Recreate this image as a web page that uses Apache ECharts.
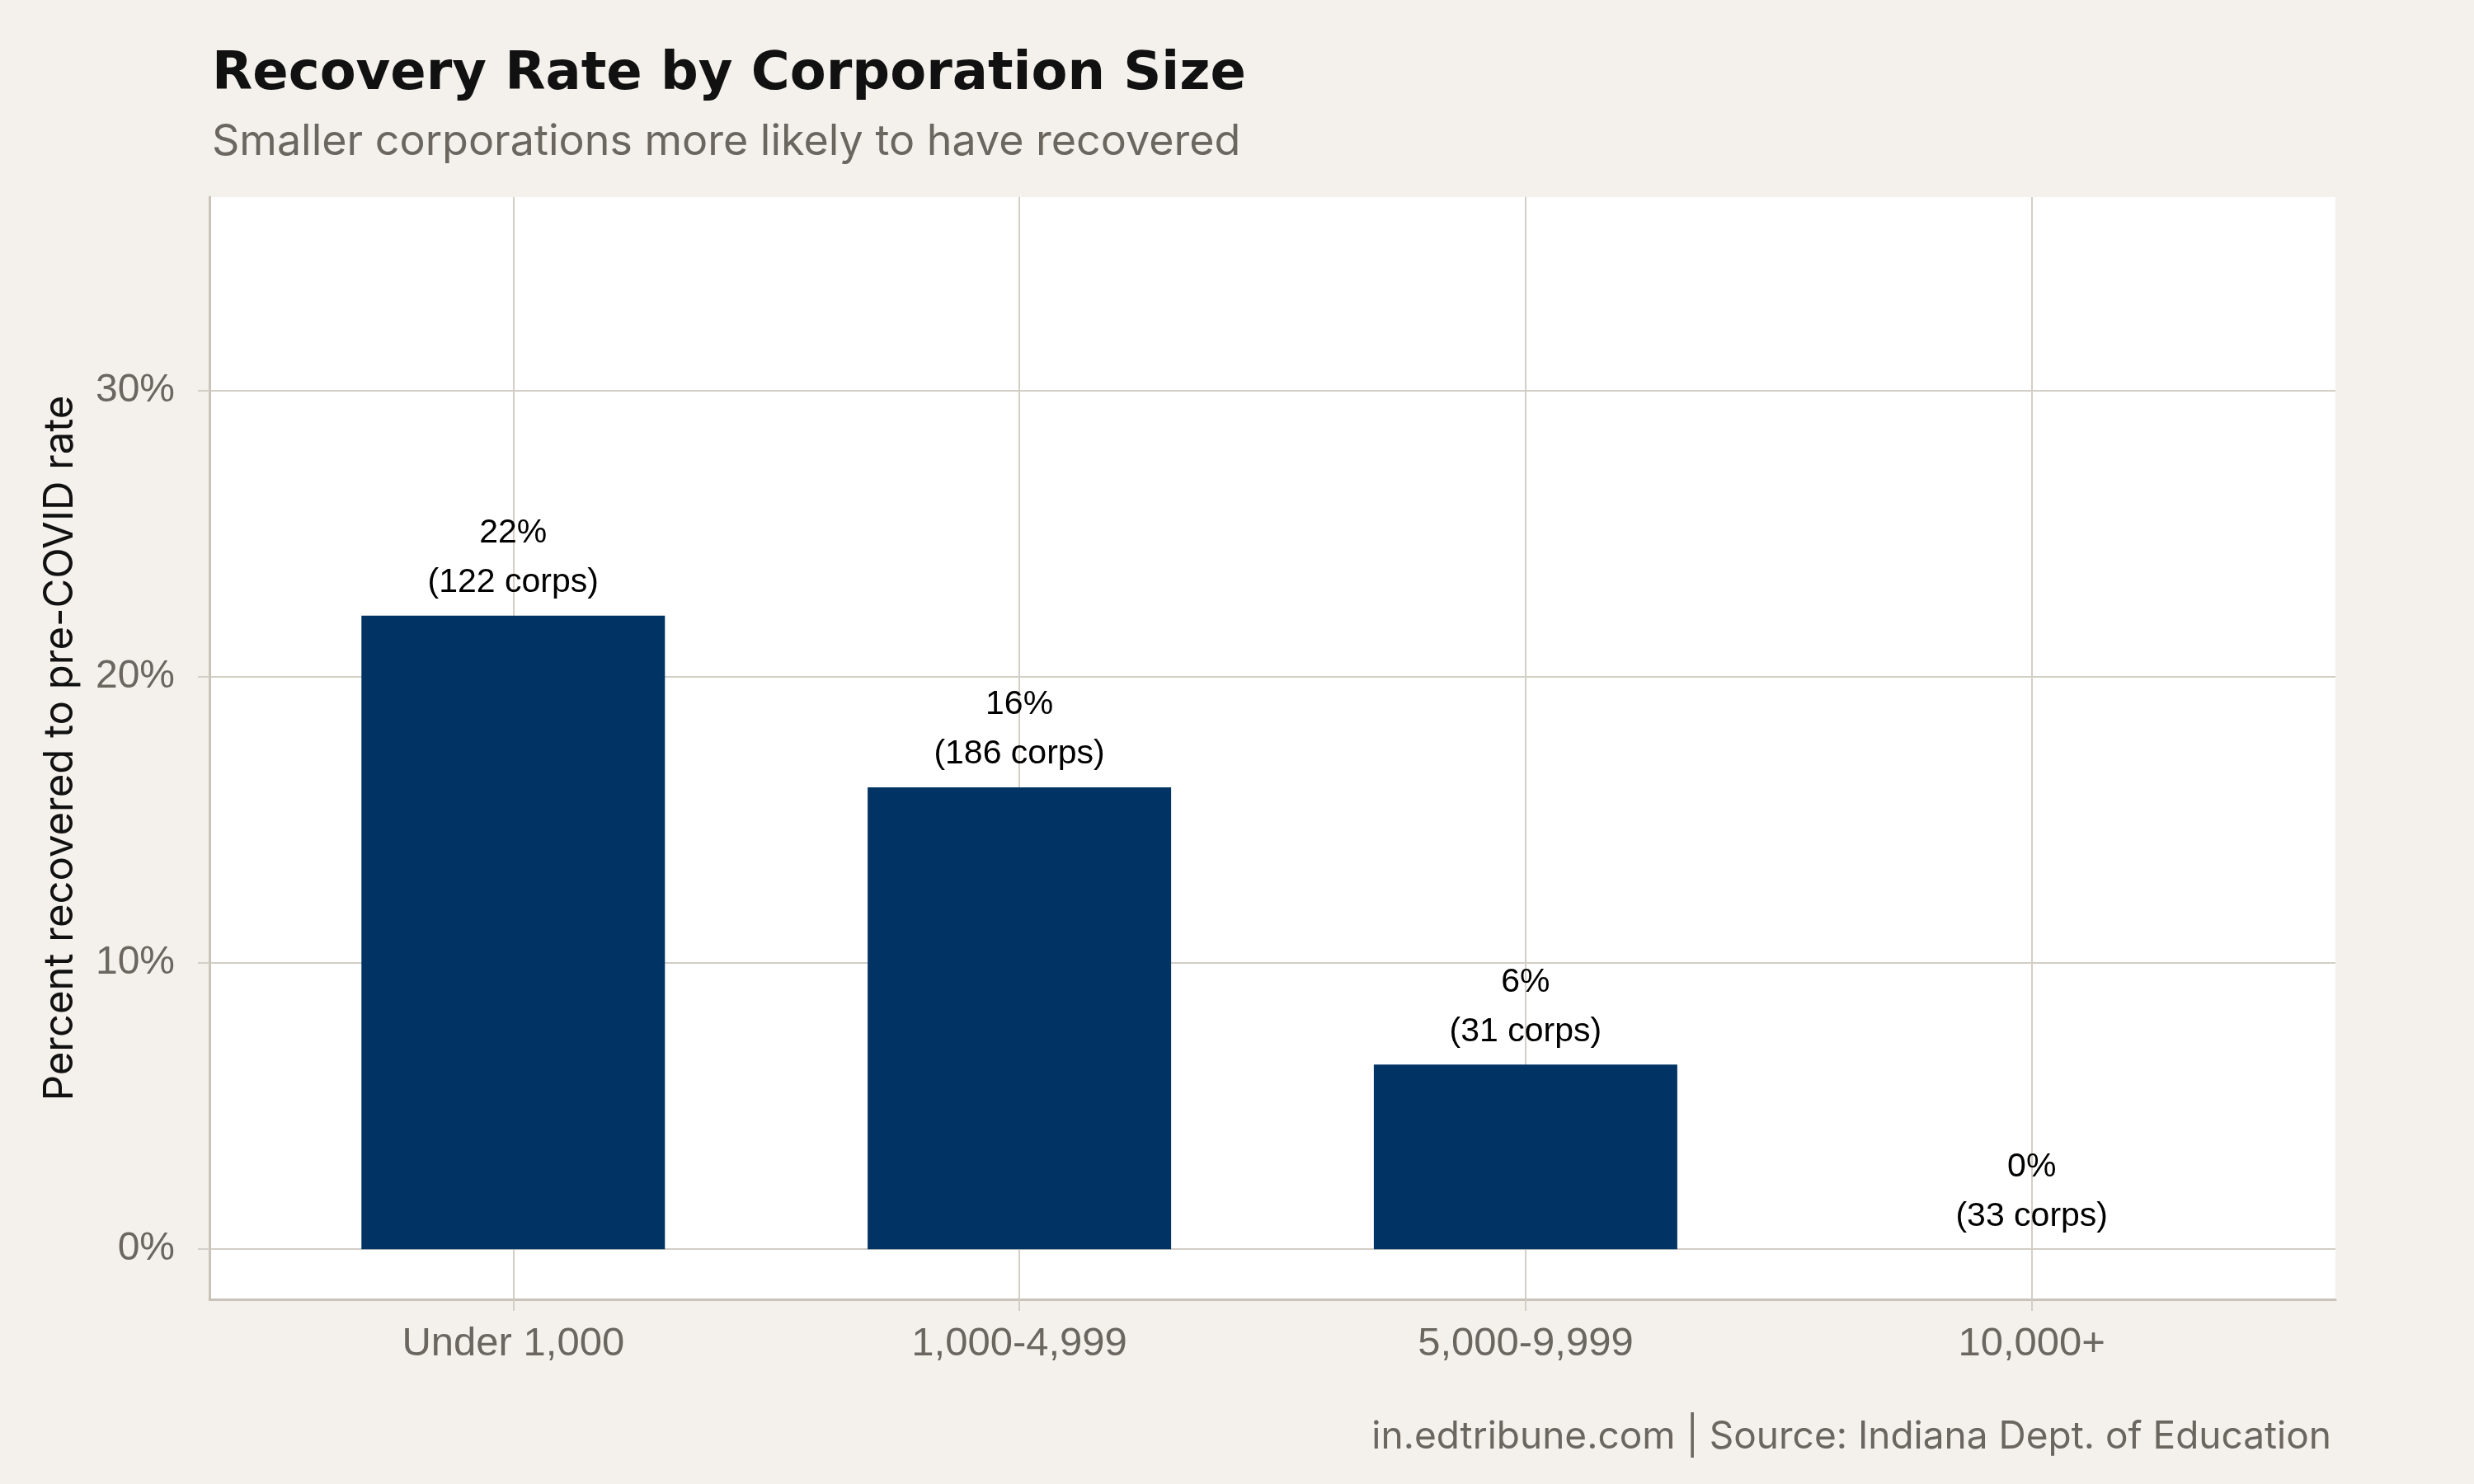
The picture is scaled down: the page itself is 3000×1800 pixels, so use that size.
<!DOCTYPE html>
<html>
<head>
<meta charset="utf-8">
<script src="https://cdn.jsdelivr.net/npm/echarts@6/dist/echarts.min.js"></script>
<style>
  html, body { margin: 0; padding: 0; background: #f4f1ec; }
  #chart { width: 3000px; height: 1800px; }
</style>
</head>
<body>
<div id="chart"></div>
<script>
// data
var categories = ['Under 1,000', '1,000-4,999', '5,000-9,999', '10,000+'];
var rates = [22.13, 16.13, 6.45, 0];        // percent recovered
var corpCounts = [122, 186, 31, 33];
var yTicks = [0, 10, 20, 30];

var gridColor = '#d3cec6';
var axisColor = '#c9c3b9';
var greyText = '#6b6660';

var chart = echarts.init(document.getElementById('chart'));
chart.setOption({
  backgroundColor: '#f4f1ec',
  animation: false,
  title: [
    {
      text: 'Recovery Rate by Corporation Size',
      left: 252, top: 54,
      textStyle: { fontFamily: 'DejaVu Sans', fontWeight: 'bold', fontSize: 64, color: '#111' }
    },
    {
      text: 'Smaller corporations more likely to have recovered',
      left: 252, top: 141,
      textStyle: { fontFamily: 'Inter', fontWeight: 'normal', fontSize: 52, color: greyText }
    },
    {
      text: 'in.edtribune.com | Source: Indiana Dept. of Education',
      right: 168, top: 1715,
      textStyle: { fontFamily: 'Inter', fontWeight: 'normal', fontSize: 46, color: greyText }
    }
  ],
  grid: {
    left: 254, right: 168, top: 239, bottom: 224,
    show: true, backgroundColor: '#ffffff', borderWidth: 0
  },
  xAxis: {
    type: 'value',
    min: 0.4, max: 4.6,
    axisLine: { show: true, onZero: false, lineStyle: { color: axisColor, width: 3 } },
    axisTick: { show: true, length: 14, customValues: categories.map(function (c, i) { return i + 1; }),
      lineStyle: { color: gridColor, width: 2 } },
    axisLabel: {
      customValues: categories.map(function (c, i) { return i + 1; }),
      formatter: function (v) { return categories[Math.round(v) - 1] || ''; },
      margin: 30, fontFamily: 'Liberation Sans', fontSize: 49, color: greyText
    },
    splitLine: { show: true, lineStyle: { color: gridColor, width: 2 } }
  },
  yAxis: {
    type: 'value',
    min: -1.75, max: 36.75,
    name: 'Percent recovered to pre-COVID rate',
    nameLocation: 'middle',
    nameGap: 156,
    nameTextStyle: { fontFamily: 'Inter', fontSize: 49, color: '#111' },
    axisLine: { show: true, lineStyle: { color: axisColor, width: 3 } },
    axisTick: { show: true, length: 14, customValues: yTicks, lineStyle: { color: gridColor, width: 2 } },
    axisLabel: {
      customValues: yTicks,
      formatter: function (v) { return v + '%'; },
      margin: 42, fontFamily: 'Liberation Sans', fontSize: 48, color: greyText
    },
    splitLine: { show: true, lineStyle: { color: gridColor, width: 2 } }
  },
  series: [{
    type: 'bar',
    barWidth: 368,
    itemStyle: { color: '#013364' },
    data: categories.map(function (c, i) { return [i + 1, rates[i]]; }),
    label: {
      show: true,
      position: 'top',
      distance: 10,
      fontFamily: 'Liberation Sans',
      fontSize: 41,
      lineHeight: 60,
      color: '#000',
      formatter: function (p) {
        var i = p.dataIndex;
        return Math.round(rates[i]) + '%\n(' + corpCounts[i] + ' corps)';
      }
    }
  }]
});
</script>
</body>
</html>
